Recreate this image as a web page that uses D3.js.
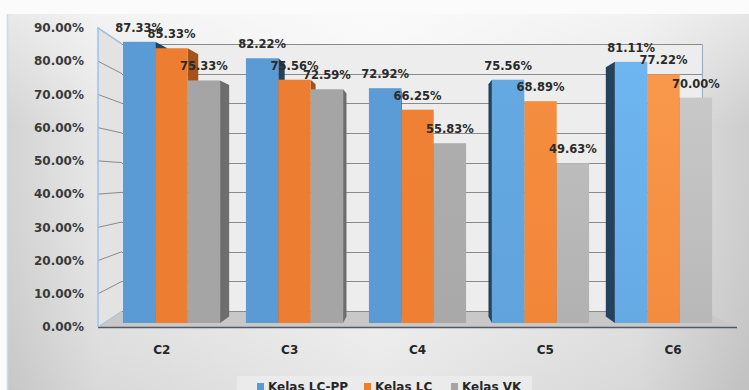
<!DOCTYPE html>
<html>
<head>
<meta charset="utf-8">
<style>
  body { margin: 0; background: #fff; }
  svg { display: block; }
  text { font-family: "DejaVu Sans", sans-serif; font-weight: bold; }
</style>
</head>
<body>
<svg width="749" height="390"></svg>
<script src="https://d3js.org/d3.v7.min.js"></script>
<script>
// chart values
var categories = ["C2", "C3", "C4", "C5", "C6"];
var seriesNames = ["Kelas LC-PP", "Kelas LC", "Kelas VK"];
var kelasLCPP = [87.33, 82.22, 72.92, 75.56, 81.11];
var kelasLC   = [85.33, 75.56, 66.25, 68.89, 77.22];
var kelasVK   = [75.33, 72.59, 55.83, 49.63, 70.00];
var yTicks = [0, 10, 20, 30, 40, 50, 60, 70, 80, 90];

var seriesValues = [kelasLCPP, kelasLC, kelasVK];

// colours: base, lit (right side of the chart), side face
var baseCol = ["#5b9bd5", "#ed7d31", "#a5a5a5"];
var litCol  = ["#72bbf6", "#fa9a4c", "#c8c8c8"];
var sideCol = ["#24425e", "#a4531b", "#6d6d6d"];

var svg = d3.select("svg"),
    width = +svg.attr("width"),
    height = +svg.attr("height");
var defs = svg.append("defs");

// background
var bg = defs.append("linearGradient").attr("id", "bg").attr("x1", 0).attr("x2", 1).attr("y1", 0).attr("y2", 0);
[[0, "#d3d3d3"], [0.12, "#e7e7e7"], [0.5, "#f6f6f6"], [0.85, "#e6e6e6"], [1, "#cdcdcd"]].forEach(function(s) {
  bg.append("stop").attr("offset", s[0]).attr("stop-color", s[1]);
});
var shade = defs.append("linearGradient").attr("id", "shade").attr("x1", 0).attr("x2", 0).attr("y1", 0).attr("y2", 1);
shade.append("stop").attr("offset", 0).attr("stop-color", "#fff").attr("stop-opacity", 0.5);
shade.append("stop").attr("offset", 0.3).attr("stop-color", "#fff").attr("stop-opacity", 0);
shade.append("stop").attr("offset", 1).attr("stop-color", "#000").attr("stop-opacity", 0.06);

svg.append("rect").attr("width", width).attr("height", height).attr("fill", "#fbfbfb");
svg.append("rect").attr("x", 8).attr("y", 14).attr("width", width - 8).attr("height", height - 14).attr("fill", "url(#bg)");
svg.append("rect").attr("x", 8).attr("y", 14).attr("width", width - 8).attr("height", height - 14).attr("fill", "url(#shade)");
svg.append("line").attr("x1", 7.5).attr("x2", 7.5).attr("y1", 14).attr("y2", height)
  .attr("stroke", "#c5dcf0").attr("stroke-width", 1.5);

// scales: front plane (axis labels), back wall, and the plane the bars stand in
var yFront = d3.scaleLinear().domain([0, 90]).range([327, 28]);
var yBack  = d3.scaleLinear().domain([0, 90]).range([311, 44]);
var yBar   = d3.scaleLinear().domain([0, 90]).range([323, 33.2]);
var xFront = d3.scaleBand().domain(categories).range([98, 737]);
var xBack  = d3.scaleBand().domain(categories).range([122, 702]);
var xBar   = d3.scaleBand().domain(categories).range([110, 725]).paddingInner(0.21).paddingOuter(0.105);
var xSeries = d3.scaleBand().domain(seriesNames).range([0, xBar.bandwidth()]);

var fx0 = xFront.range()[0], fx1 = xFront.range()[1];
var bx0 = xBack.range()[0], bx1 = xBack.range()[1];

// walls and floor
svg.append("polygon")
  .attr("points", [[fx0, yFront(0)], [fx0, yFront(90)], [bx0, yBack(90)], [bx0, yBack(0)]].join(" "))
  .attr("fill", "#e3e3e3");
svg.append("rect")
  .attr("x", bx0).attr("y", yBack(90)).attr("width", bx1 - bx0).attr("height", yBack(0) - yBack(90))
  .attr("fill", "#ededed");
svg.append("polygon")
  .attr("points", [[fx0, yFront(0)], [bx0, yBack(0)], [bx1, yBack(0)], [fx1, yFront(0)]].join(" "))
  .attr("fill", "#c8c8c8");

var grid = svg.append("g").attr("stroke", "#8a8a8a").attr("stroke-width", 1);
grid.selectAll("line.back").data(yTicks).enter().append("line")
  .attr("class", "back")
  .attr("x1", bx0).attr("x2", bx1)
  .attr("y1", function(d) { return Math.round(yBack(d)) + 0.5; })
  .attr("y2", function(d) { return Math.round(yBack(d)) + 0.5; });
grid.selectAll("line.side").data(yTicks.slice(1)).enter().append("line")
  .attr("class", "side")
  .attr("x1", fx0).attr("x2", bx0)
  .attr("y1", function(d) { return yFront(d); })
  .attr("y2", function(d) { return yBack(d); });

svg.append("line").attr("x1", bx1 + 0.5).attr("x2", bx1 + 0.5).attr("y1", yBack(90)).attr("y2", yBack(0))
  .attr("stroke", "#9fb3c8").attr("stroke-width", 1.2);
svg.append("polyline")
  .attr("points", [[bx0, yBack(90)], [fx0, yFront(90)], [fx0, yFront(0)]].join(" "))
  .attr("fill", "none").attr("stroke", "#9cc3e6").attr("stroke-width", 1.5);
svg.append("line").attr("x1", fx0).attr("x2", fx1).attr("y1", yFront(0) + 0.5).attr("y2", yFront(0) + 0.5)
  .attr("stroke", "#505a66").attr("stroke-width", 1.6);
svg.append("line").attr("x1", fx0).attr("x2", bx0).attr("y1", yFront(0)).attr("y2", yBack(0))
  .attr("stroke", "#9cc3e6").attr("stroke-width", 1);

// y axis labels
svg.append("g").selectAll("text").data(yTicks).enter().append("text")
  .attr("x", 84).attr("y", function(d) { return yFront(d); })
  .attr("dy", "0.35em").attr("text-anchor", "end")
  .attr("font-size", 12).attr("fill", "#3a3a3a")
  .text(function(d) { return d.toFixed(2) + "%"; });

// category labels
svg.append("g").selectAll("text").data(categories).enter().append("text")
  .attr("x", function(d) { return xFront(d) + xFront.bandwidth() / 2; })
  .attr("y", 350).attr("dy", "0.35em").attr("text-anchor", "middle")
  .attr("font-size", 12).attr("fill", "#262626")
  .text(function(d) { return d; });

// bars with a little perspective depth
var vpX = 417, vpY = 180, depth = 0.046;
var bars = [];
categories.forEach(function(c, ci) {
  seriesNames.forEach(function(s, si) {
    var x0 = xBar(c) + xSeries(s);
    bars.push({ cat: c, si: si, ci: ci, v: seriesValues[si][ci],
                x0: x0, x1: x0 + xSeries.bandwidth() });
  });
});
bars.forEach(function(b, i) {
  var t = Math.max(0, Math.min(1, ((b.x0 + b.x1) / 2 - 380) / 300));
  var g = defs.append("linearGradient").attr("id", "bar" + i)
    .attr("x1", 0).attr("x2", 0).attr("y1", 0).attr("y2", 1);
  g.append("stop").attr("offset", 0).attr("stop-color", d3.interpolateRgb(baseCol[b.si], litCol[b.si])(t));
  g.append("stop").attr("offset", 1).attr("stop-color", d3.interpolateRgb(baseCol[b.si], litCol[b.si])(t * 0.55));
  b.id = i;
});

// draw the bars farthest from the centre first
var order = bars.slice().sort(function(a, b) {
  return Math.abs((b.x0 + b.x1) / 2 - vpX) - Math.abs((a.x0 + a.x1) / 2 - vpX);
});
var barG = svg.append("g");
order.forEach(function(b) {
  var top = yBar(b.v), bot = yBar(0);
  var edge = (b.x0 + b.x1) / 2 < vpX ? b.x1 : b.x0;
  var dx = depth * (vpX - edge);
  var side = [[edge, top], [edge + dx, top + depth * (vpY - top)],
              [edge + dx, bot + depth * (vpY - bot)], [edge, bot]];
  barG.append("polygon").attr("points", side.join(" ")).attr("fill", sideCol[b.si]);
  barG.append("rect")
    .attr("x", b.x0).attr("y", top).attr("width", b.x1 - b.x0).attr("height", bot - top)
    .attr("fill", "url(#bar" + b.id + ")");
});

// value labels
svg.append("g").selectAll("text").data(bars).enter().append("text")
  .attr("x", function(d) { return (d.x0 + d.x1) / 2; })
  .attr("y", function(d) { return yBar(d.v) - 14; })
  .attr("dy", "0.35em").attr("text-anchor", "middle")
  .attr("font-size", 11.5).attr("fill", "#2a2a2a")
  .text(function(d) { return d.v.toFixed(2) + "%"; });

// legend, partly below the bottom edge
var legend = svg.append("g");
legend.append("rect").attr("x", 237).attr("y", 376).attr("width", 295).attr("height", 20).attr("fill", "#ebebeb");
var legendX = [257, 364, 451];
seriesNames.forEach(function(s, i) {
  legend.append("rect").attr("x", legendX[i]).attr("y", 383).attr("width", 7).attr("height", 7).attr("fill", baseCol[i]);
  legend.append("text").attr("x", legendX[i] + 11).attr("y", 391)
    .attr("font-size", 12).attr("fill", "#262626").text(s);
});
</script>
</body>
</html>
